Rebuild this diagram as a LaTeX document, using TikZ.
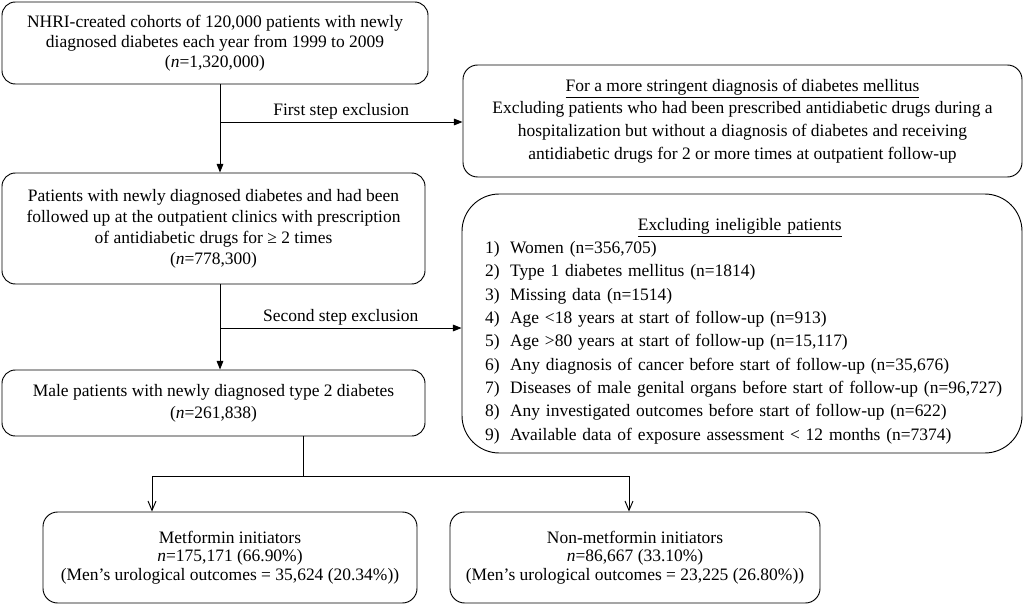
\documentclass[tikz,border=0pt]{standalone}
\usepackage{fontspec}
\setmainfont{Liberation Serif}
\usetikzlibrary{arrows.meta}
\newcommand{\itm}[1]{\makebox[18.75pt][l]{#1)}}

\begin{document}
\begin{tikzpicture}[x=0.75pt,y=-0.75pt,
  every node/.style={font=\fontsize{13.1}{15}\selectfont},
  box/.style={draw,rounded corners=10pt,line width=0.7pt,align=center,inner sep=0pt},
  tip/.style={-{Triangle[length=6.5pt,width=5pt]},line width=0.7pt},
  vtip/.style={-{Straight Barb[length=7pt,width=6pt]},line width=0.7pt}]
\useasboundingbox (0,0) rectangle (1024,606);

%Step 0
\node[box,minimum width=319.5pt,minimum height=61.5pt] (cohort) at (215,43)
  {NHRI-created cohorts of 120,000 patients with newly\\
   diagnosed diabetes each year from 1999 to 2009\\
   (\textit{n}=1,320,000)};

\node[box,rounded corners=11pt,minimum width=419.25pt,minimum height=84pt,
  font=\fontsize{13.1}{17}\selectfont] (strict) at (742.5,121)
  {\underline{For a more stringent diagnosis of diabetes mellitus}\\
   Excluding patients who had been prescribed antidiabetic drugs during a\\
   hospitalization but without a diagnosis of diabetes and receiving\\
   antidiabetic drugs for 2 or more times at outpatient follow-up};

%Step 1
\node[box,minimum width=317.25pt,minimum height=83.25pt,
  font=\fontsize{13.1}{15.75}\selectfont] (diag) at (213.5,228.5)
  {Patients with newly diagnosed diabetes and had been\\
   followed up at the outpatient clinics with prescription\\
   of antidiabetic drugs for ≥ 2 times\\
   (\textit{n}=778,300)};

\node[box,rounded corners=28pt,minimum width=420pt,minimum height=194.25pt] (inel) at (742,323.5) {};
\node[align=left,text width=400pt,inner sep=0pt,
  font=\fontsize{13.1}{17.5}\selectfont] (inellist) at (751.7,331)
  {\hbox to\hsize{\hfil\underline{Excluding ineligible patients}\hfil\hspace{18pt}}\\
   \itm{1}Women (n=356,705)\\
   \itm{2}Type 1 diabetes mellitus (n=1814)\\
   \itm{3}Missing data (n=1514)\\
   \itm{4}Age <18 years at start of follow-up (n=913)\\
   \itm{5}Age >80 years at start of follow-up (n=15,117)\\
   \itm{6}Any diagnosis of cancer before start of follow-up (n=35,676)\\
   \itm{7}Diseases of male genital organs before start of follow-up (n=96,727)\\
   \itm{8}Any investigated outcomes before start of follow-up (n=622)\\
   \itm{9}Available data of exposure assessment < 12 months (n=7374)};

%Step 2
\node[box,minimum width=317.25pt,minimum height=49.5pt,
  font=\fontsize{13.1}{16.5}\selectfont] (male) at (213.5,403)
  {Male patients with newly diagnosed type 2 diabetes\\
   (\textit{n}=261,838)};

\node[box,rounded corners=11pt,minimum width=280.5pt,minimum height=68.25pt,
  font=\fontsize{13.1}{14}\selectfont] (metf) at (230,557.5)
  {Metformin initiators\\
   \textit{n}=175,171 (66.90\%)\\
   (Men's urological outcomes = 35,624 (20.34\%))};
\node[box,rounded corners=11pt,minimum width=277.5pt,minimum height=68.25pt,
  font=\fontsize{13.1}{14}\selectfont] (nonmetf) at (635,557.5)
  {Non-metformin initiators\\
   \textit{n}=86,667 (33.10\%)\\
   (Men's urological outcomes = 23,225 (26.80\%))};

%Connectors
\coordinate (s1) at (220,122);
\coordinate (s2) at (220,328);
\coordinate (fork) at (303,476);
\coordinate (b1) at (152,476);
\coordinate (b2) at (629,476);

\draw[tip] (cohort.south -| s1) -- (diag.north -| s1);
\draw[tip] (s1) -- node[above,inner sep=2pt] {First step exclusion} (strict.west |- s1);
\draw[tip] (diag.south -| s2) -- (male.north -| s2);
\draw[tip] (s2) -- node[above,inner sep=2pt] {Second step exclusion} (inel.west |- s2);

\draw[line width=0.7pt] (male.south -| fork) -- (fork);
\draw[line width=0.7pt] (b1) -- (b2);
\draw[vtip] (b1) -- (metf.north -| b1);
\draw[vtip] (b2) -- (nonmetf.north -| b2);

\end{tikzpicture}
\end{document}
